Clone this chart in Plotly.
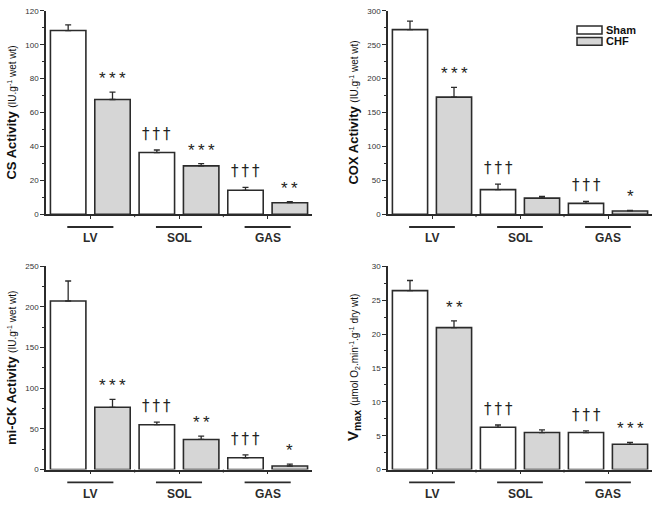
import plotly.graph_objects as go

# ---------------- data ----------------
tissues = ["LV", "SOL", "GAS"]
groups = ["Sham", "CHF"]

cs_sham = [108.4, 36.4, 14.1]
cs_sham_err = [3.3, 1.5, 1.7]
cs_chf = [67.7, 28.5, 6.8]
cs_chf_err = [4.3, 1.3, 0.6]

cox_sham = [272.4, 36.3, 16.0]
cox_sham_err = [12.6, 8.2, 2.9]
cox_chf = [172.7, 23.7, 4.8]
cox_chf_err = [14.5, 2.4, 1.0]

mick_sham = [207.3, 55.2, 14.5]
mick_sham_err = [24.6, 3.2, 3.6]
mick_chf = [76.6, 37.1, 4.4]
mick_chf_err = [9.7, 4.0, 2.4]

vmax_sham = [26.4, 6.24, 5.47]
vmax_sham_err = [1.5, 0.34, 0.24]
vmax_chf = [20.95, 5.47, 3.73]
vmax_chf_err = [1.0, 0.38, 0.29]

cs_sham_sig = ["", "†††", "†††"]
cs_chf_sig = ["***", "***", "**"]
cox_sham_sig = ["", "†††", "†††"]
cox_chf_sig = ["***", "", "*"]
mick_sham_sig = ["", "†††", "†††"]
mick_chf_sig = ["***", "**", "*"]
vmax_sham_sig = ["", "†††", "†††"]
vmax_chf_sig = ["**", "", "***"]

y_ranges = [[0, 120], [0, 300], [0, 250], [0, 30]]
y_dticks = [20, 50, 50, 5]

titles = [
    "<b>CS Activity</b> <span style='font-size:10px'>(IU.g<sup>-1</sup> wet wt)</span>",
    "<b>COX Activity</b> <span style='font-size:10px'>(IU.g<sup>-1</sup> wet wt)</span>",
    "<b>mi-CK Activity</b> <span style='font-size:10px'>(IU.g<sup>-1</sup> wet wt)</span>",
    "<b>V<sub>max</sub></b> <span style='font-size:10px'>(µmol O<sub>2</sub>.min<sup>-1</sup>.g<sup>-1</sup> dry wt)</span>",
]
title_sizes = [13, 13, 13, 15]

panels = [
    (cs_sham, cs_sham_err, cs_chf, cs_chf_err, cs_sham_sig, cs_chf_sig),
    (cox_sham, cox_sham_err, cox_chf, cox_chf_err, cox_sham_sig, cox_chf_sig),
    (mick_sham, mick_sham_err, mick_chf, mick_chf_err, mick_sham_sig, mick_chf_sig),
    (vmax_sham, vmax_sham_err, vmax_chf, vmax_chf_err, vmax_sham_sig, vmax_chf_sig),
]

# ---------------- layout geometry (pixels) ----------------
W, H = 657, 508
FONT = "Liberation Sans, Arial, Helvetica, sans-serif"
DAGGER_FONT = "DejaVu Sans, Liberation Sans, sans-serif"
DARK = "#2b2b2b"
GREY = "#d6d6d6"

x_px = [(46, 312), (388, 652), (46, 312), (388, 652)]
y_px = [(7, 214), (7, 214), (267, 474), (267, 474)]
title_x_px = [12, 354, 12, 354]


def px_x(p):
    return p / W


def px_y(p):
    return 1 - p / H


fig = go.Figure()
layout = dict(
    width=W, height=H,
    margin=dict(l=0, r=0, t=0, b=0),
    paper_bgcolor="white", plot_bgcolor="white",
    barmode="group", bargap=0.0, bargroupgap=0.2,
    showlegend=False,
    font=dict(family=FONT, color=DARK),
)
annotations = []
shapes = []

for k, (sham, sham_err, chf, chf_err, sham_sig, chf_sig) in enumerate(panels):
    n = k + 1
    xa = "x" if n == 1 else f"x{n}"
    ya = "y" if n == 1 else f"y{n}"
    xkey = "xaxis" if n == 1 else f"xaxis{n}"
    ykey = "yaxis" if n == 1 else f"yaxis{n}"

    for name, vals, errs, fill in [(groups[0], sham, sham_err, "white"),
                                   (groups[1], chf, chf_err, GREY)]:
        fig.add_trace(go.Bar(
            x=tissues, y=vals, name=name, xaxis=xa, yaxis=ya,
            marker=dict(color=fill, line=dict(color=DARK, width=1.6)),
            error_y=dict(type="data", array=errs, arrayminus=[0] * len(errs),
                         symmetric=False, color=DARK, thickness=1.3, width=3),
            hoverinfo="x+y+name",
        ))

    x0, x1 = x_px[k]
    ytop, ybot = y_px[k]
    layout[xkey] = dict(
        domain=[px_x(x0), px_x(x1)], anchor=ya, type="category",
        range=[-0.5, 2.5], showline=True, linecolor=DARK, linewidth=1.5,
        ticks="outside", ticklen=3, tickcolor=DARK, tickwidth=1,
        showticklabels=False, showgrid=False, zeroline=False,
    )
    dt = y_dticks[k]
    layout[ykey] = dict(
        domain=[px_y(ybot), px_y(ytop)], anchor=xa, range=y_ranges[k],
        showline=True, linecolor=DARK, linewidth=1.5,
        ticks="outside", ticklen=4, tickcolor=DARK, tickwidth=1,
        dtick=dt, tick0=0,
        minor=dict(ticks="outside", ticklen=2, dtick=dt / 2, tickcolor=DARK, tickwidth=1),
        tickfont=dict(size=8, color="#333333", family=FONT),
        showgrid=False, zeroline=False,
    )

    # boundary ticks on category axis
    for b in [0.5, 1.5]:
        shapes.append(dict(type="line", xref=xa, yref=f"{ya} domain",
                           x0=b, x1=b, y0=0, y1=-3 / (ybot - ytop),
                           line=dict(color=DARK, width=1)))

    # group label lines and labels
    line_y = ybot + 13
    lab_y = ybot + 24.5
    for i, t in enumerate(tissues):
        shapes.append(dict(type="line", xref=xa, yref="paper",
                           x0=i - 0.26, x1=i + 0.26, y0=px_y(line_y), y1=px_y(line_y),
                           line=dict(color=DARK, width=1.8)))
        annotations.append(dict(x=i, xref=xa, y=px_y(lab_y), yref="paper",
                                text=f"<b>{t}</b>", showarrow=False,
                                xanchor="center", yanchor="middle",
                                font=dict(size=12, family=FONT, color=DARK)))

    # significance markers
    for i in range(len(tissues)):
        for off, vals, errs, sig in [(-0.25, sham, sham_err, sham_sig),
                                     (0.25, chf, chf_err, chf_sig)]:
            s = sig[i]
            if not s:
                continue
            if "*" in s:
                fsz, ysh, fam = 17, 2, FONT
            else:
                fsz, ysh, fam = 15, 5, DAGGER_FONT
            txt = "\u2009".join(list(s))
            annotations.append(dict(x=i + off, xref=xa, y=vals[i] + errs[i], yref=ya,
                                    text=txt, showarrow=False, xanchor="center",
                                    yanchor="bottom", yshift=ysh,
                                    font=dict(size=fsz, family=fam, color="#222222")))

    # y-axis title
    annotations.append(dict(x=px_x(title_x_px[k]), xref="paper",
                            y=px_y((ytop + ybot) / 2), yref="paper",
                            text=titles[k], textangle=-90, showarrow=False,
                            xanchor="center", yanchor="middle",
                            font=dict(size=title_sizes[k], family=FONT, color="#111111")))

# legend (drawn in panel 2)
leg = [(groups[0], "white", 22.5, 30.5), (groups[1], GREY, 34, 42)]
for name, fill, yt, yb in leg:
    shapes.append(dict(type="rect", xref="paper", yref="paper",
                       x0=px_x(577), x1=px_x(602), y0=px_y(yb), y1=px_y(yt),
                       fillcolor=fill, line=dict(color=DARK, width=1.5)))
    annotations.append(dict(x=px_x(604), xref="paper", y=px_y((yt + yb) / 2), yref="paper",
                            text=f"<b>{name}</b>", showarrow=False,
                            xanchor="left", yanchor="middle",
                            font=dict(size=11, family=FONT, color="#111111")))

layout["annotations"] = annotations
layout["shapes"] = shapes
fig.update_layout(**layout)
fig.write_html("out.html",
               config={"displayModeBar": False},
               post_script="document.body.style.margin='0px';document.body.style.overflow='hidden';")
